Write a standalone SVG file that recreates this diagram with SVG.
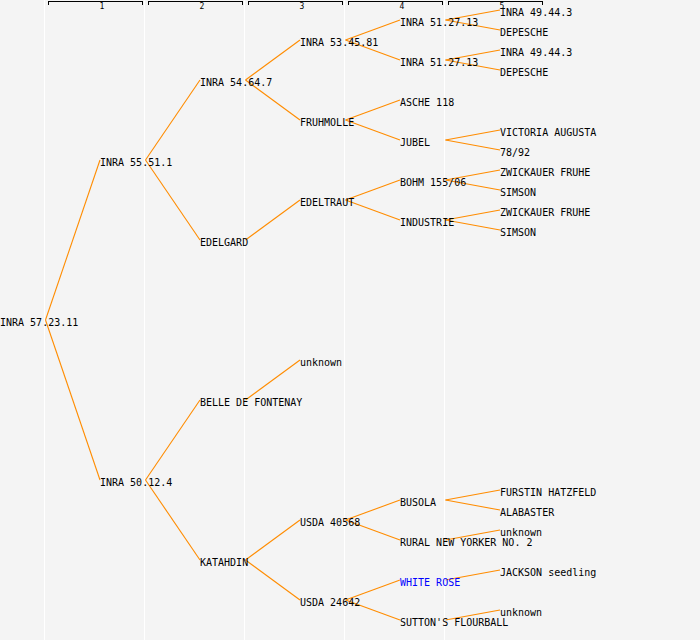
<svg xmlns="http://www.w3.org/2000/svg" width="700" height="640" viewBox="0 0 700 640">
<style>
.bg{fill:#f4f4f4}
.sep{stroke:#ffffff;stroke-width:1}
.hdr{stroke:#000;stroke-width:1;fill:none;shape-rendering:crispEdges}
.hn{font-family:"DejaVu Sans Mono","Liberation Mono",monospace;font-size:8px;fill:#000;text-anchor:middle}
.lbl{font-family:"DejaVu Sans Mono","Liberation Mono",monospace;font-size:10px;fill:#000}
.blue{fill:#0000ff}
#connectors line{stroke:#ff8c00;stroke-width:1.1}
</style>
<rect class="bg" x="0" y="0" width="700" height="640"/>
<g id="grid">
<line class="sep" x1="44.5" y1="0" x2="44.5" y2="640"/>
<line class="sep" x1="144.5" y1="0" x2="144.5" y2="640"/>
<line class="sep" x1="244.5" y1="0" x2="244.5" y2="640"/>
<line class="sep" x1="344.5" y1="0" x2="344.5" y2="640"/>
<line class="sep" x1="444.5" y1="0" x2="444.5" y2="640"/>
</g>
<g id="header">
<path class="hdr" d="M48.5,5V1.5H142.5V5M148.5,5V1.5H242.5V5M248.5,5V1.5H342.5V5M348.5,5V1.5H442.5V5M448.5,5V1.5H542.5V5"/>
<text class="hn" x="102" y="9">1</text>
<text class="hn" x="202" y="9">2</text>
<text class="hn" x="302" y="9">3</text>
<text class="hn" x="402" y="9">4</text>
<text class="hn" x="502" y="9">5</text>
</g>
<g id="connectors">
<line x1="45.5" y1="320" x2="100" y2="160"/>
<line x1="45.5" y1="320" x2="100" y2="480"/>
<line x1="145.5" y1="160" x2="200" y2="80"/>
<line x1="145.5" y1="160" x2="200" y2="240"/>
<line x1="145.5" y1="480" x2="200" y2="400"/>
<line x1="145.5" y1="480" x2="200" y2="560"/>
<line x1="245.5" y1="80" x2="300" y2="40"/>
<line x1="245.5" y1="80" x2="300" y2="120"/>
<line x1="245.5" y1="240" x2="300" y2="200"/>
<line x1="245.5" y1="400" x2="300" y2="360"/>
<line x1="245.5" y1="560" x2="300" y2="520"/>
<line x1="245.5" y1="560" x2="300" y2="600"/>
<line x1="345.5" y1="40" x2="400" y2="20"/>
<line x1="345.5" y1="40" x2="400" y2="60"/>
<line x1="345.5" y1="120" x2="400" y2="100"/>
<line x1="345.5" y1="120" x2="400" y2="140"/>
<line x1="345.5" y1="200" x2="400" y2="180"/>
<line x1="345.5" y1="200" x2="400" y2="220"/>
<line x1="345.5" y1="520" x2="400" y2="500"/>
<line x1="345.5" y1="520" x2="400" y2="540"/>
<line x1="345.5" y1="600" x2="400" y2="580"/>
<line x1="345.5" y1="600" x2="400" y2="620"/>
<line x1="445.5" y1="20" x2="500" y2="10"/>
<line x1="445.5" y1="20" x2="500" y2="30"/>
<line x1="445.5" y1="60" x2="500" y2="50"/>
<line x1="445.5" y1="60" x2="500" y2="70"/>
<line x1="445.5" y1="140" x2="500" y2="130"/>
<line x1="445.5" y1="140" x2="500" y2="150"/>
<line x1="445.5" y1="180" x2="500" y2="170"/>
<line x1="445.5" y1="180" x2="500" y2="190"/>
<line x1="445.5" y1="220" x2="500" y2="210"/>
<line x1="445.5" y1="220" x2="500" y2="230"/>
<line x1="445.5" y1="500" x2="500" y2="490"/>
<line x1="445.5" y1="500" x2="500" y2="510"/>
<line x1="445.5" y1="540" x2="500" y2="530"/>
<line x1="445.5" y1="580" x2="500" y2="570"/>
<line x1="445.5" y1="620" x2="500" y2="610"/>
</g>
<g id="n0"><text class="lbl" x="0" y="326">INRA 57.23.11</text></g>
<g id="n1"><text class="lbl" x="100" y="166">INRA 55.51.1</text></g>
<g id="n2"><text class="lbl" x="100" y="486">INRA 50.12.4</text></g>
<g id="n3"><text class="lbl" x="200" y="86">INRA 54.64.7</text></g>
<g id="n4"><text class="lbl" x="200" y="246">EDELGARD</text></g>
<g id="n5"><text class="lbl" x="200" y="406">BELLE DE FONTENAY</text></g>
<g id="n6"><text class="lbl" x="200" y="566">KATAHDIN</text></g>
<g id="n7"><text class="lbl" x="300" y="46">INRA 53.45.81</text></g>
<g id="n8"><text class="lbl" x="300" y="126">FRUHMOLLE</text></g>
<g id="n9"><text class="lbl" x="300" y="206">EDELTRAUT</text></g>
<g id="n10"><text class="lbl" x="300" y="366">unknown</text></g>
<g id="n11"><text class="lbl" x="300" y="526">USDA 40568</text></g>
<g id="n12"><text class="lbl" x="300" y="606">USDA 24642</text></g>
<g id="n13"><text class="lbl" x="400" y="26">INRA 51.27.13</text></g>
<g id="n14"><text class="lbl" x="400" y="66">INRA 51.27.13</text></g>
<g id="n15"><text class="lbl" x="400" y="106">ASCHE 118</text></g>
<g id="n16"><text class="lbl" x="400" y="146">JUBEL</text></g>
<g id="n17"><text class="lbl" x="400" y="186">BOHM 155/06</text></g>
<g id="n18"><text class="lbl" x="400" y="226">INDUSTRIE</text></g>
<g id="n19"><text class="lbl" x="400" y="506">BUSOLA</text></g>
<g id="n20"><text class="lbl" x="400" y="546">RURAL NEW YORKER NO. 2</text></g>
<g id="n21"><text class="lbl blue" x="400" y="586">WHITE ROSE</text></g>
<g id="n22"><text class="lbl" x="400" y="626">SUTTON'S FLOURBALL</text></g>
<g id="n23"><text class="lbl" x="500" y="16">INRA 49.44.3</text></g>
<g id="n24"><text class="lbl" x="500" y="36">DEPESCHE</text></g>
<g id="n25"><text class="lbl" x="500" y="56">INRA 49.44.3</text></g>
<g id="n26"><text class="lbl" x="500" y="76">DEPESCHE</text></g>
<g id="n27"><text class="lbl" x="500" y="136">VICTORIA AUGUSTA</text></g>
<g id="n28"><text class="lbl" x="500" y="156">78/92</text></g>
<g id="n29"><text class="lbl" x="500" y="176">ZWICKAUER FRUHE</text></g>
<g id="n30"><text class="lbl" x="500" y="196">SIMSON</text></g>
<g id="n31"><text class="lbl" x="500" y="216">ZWICKAUER FRUHE</text></g>
<g id="n32"><text class="lbl" x="500" y="236">SIMSON</text></g>
<g id="n33"><text class="lbl" x="500" y="496">FURSTIN HATZFELD</text></g>
<g id="n34"><text class="lbl" x="500" y="516">ALABASTER</text></g>
<g id="n35"><text class="lbl" x="500" y="536">unknown</text></g>
<g id="n36"><text class="lbl" x="500" y="576">JACKSON seedling</text></g>
<g id="n37"><text class="lbl" x="500" y="616">unknown</text></g>
</svg>
